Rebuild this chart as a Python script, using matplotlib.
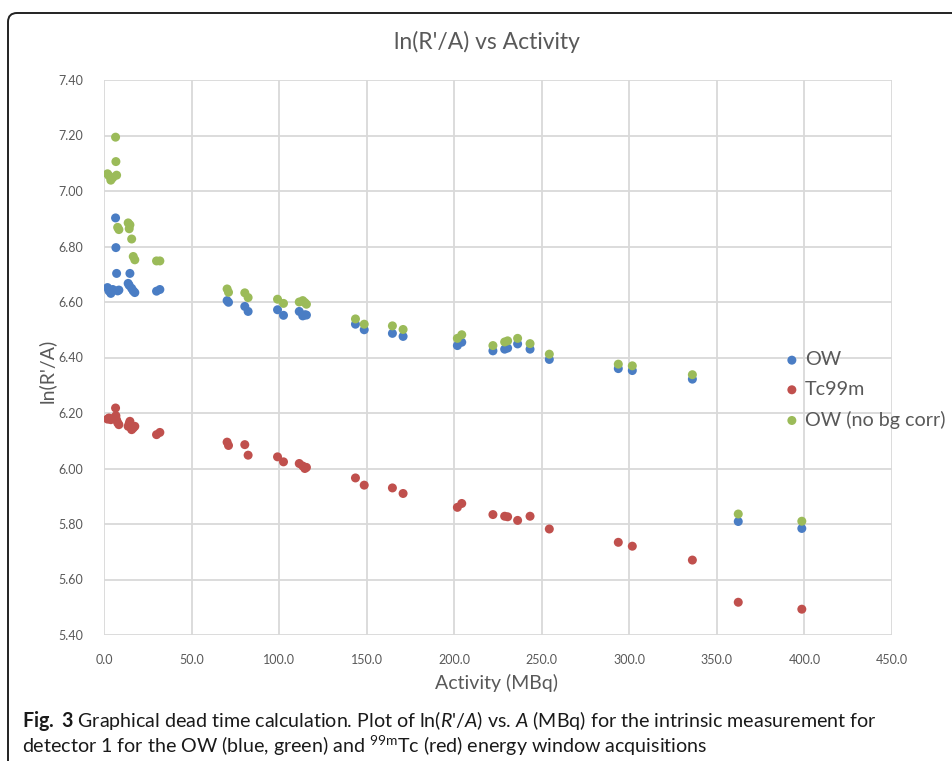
import numpy as np
import matplotlib
matplotlib.use("Agg")
import matplotlib.pyplot as plt
from matplotlib.patches import FancyBboxPatch
from matplotlib.transforms import IdentityTransform

# ---------------
# DATA
# ---------------
activity = [2.0, 2.8, 3.9, 5.0, 6.6, 6.8, 7.2, 7.8, 8.5, 13.8, 14.4, 14.8,
            15.8, 16.7, 17.6, 30.0, 31.9,
            70.3, 71.1, 80.4, 82.3, 99.1, 102.5, 111.5, 113.5, 114.7, 115.6,
            143.6, 148.6, 164.7, 170.8, 201.8, 204.3, 222.1, 228.8, 230.5,
            236.2, 243.3, 254.3, 293.7, 301.7, 336.0, 362.2, 398.5]

ow = [6.652, 6.640, 6.631, 6.645, 6.903, 6.796, 6.703, 6.640, 6.643, 6.667,
      6.660, 6.703, 6.649, 6.640, 6.634, 6.639, 6.645,
      6.605, 6.599, 6.584, 6.566, 6.572, 6.552, 6.566, 6.550, 6.554, 6.553,
      6.520, 6.500, 6.487, 6.476, 6.443, 6.455, 6.424, 6.430, 6.434,
      6.449, 6.430, 6.393, 6.360, 6.353, 6.322, 5.809, 5.784]

tc99m = [6.178, 6.182, 6.176, 6.180, 6.218, 6.190, 6.175, 6.165, 6.158, 6.152,
         6.162, 6.170, 6.140, 6.146, 6.152, 6.122, 6.130,
         6.095, 6.083, 6.086, 6.048, 6.042, 6.024, 6.018, 6.009, 6.000, 6.004,
         5.966, 5.940, 5.930, 5.910, 5.860, 5.874, 5.834, 5.828, 5.826,
         5.813, 5.828, 5.782, 5.734, 5.720, 5.670, 5.518, 5.493]

ow_nobg = [7.062, 7.055, 7.039, 7.048, 7.194, 7.106, 7.057, 6.869, 6.861, 6.885,
           6.864, 6.878, 6.827, 6.764, 6.752, 6.748, 6.748,
           6.647, 6.635, 6.633, 6.616, 6.610, 6.595, 6.600, 6.605, 6.598, 6.592,
           6.539, 6.520, 6.514, 6.501, 6.469, 6.482, 6.443, 6.456, 6.460,
           6.469, 6.450, 6.412, 6.376, 6.370, 6.338, 5.836, 5.810]

series_names = ['OW', 'Tc99m', 'OW (no bg corr)']
xticks = np.arange(0, 451, 50)
yticks = np.arange(5.4, 7.41, 0.2)

# ---------------
# STYLE
# ---------------
plt.rcParams['font.family'] = ['Lato', 'DejaVu Sans']
plt.rcParams['mathtext.fontset'] = 'custom'
plt.rcParams['mathtext.rm'] = 'Lato'
plt.rcParams['mathtext.it'] = 'Lato:italic'
plt.rcParams['mathtext.bf'] = 'Lato:bold'

grey = '#595959'
colours = ['#4a7dc4', '#c0504d', '#9bbb59']

W, H = 953, 761
fig = plt.figure(figsize=(W / 100, H / 100), dpi=100)

# plot area in pixels: x 104..892, y 80..635
ax = fig.add_axes([104 / W, 1 - 635 / H, (892 - 104) / W, (635 - 80) / H])

for ys, name, c in zip([ow, tc99m, ow_nobg], series_names, colours):
    ax.scatter(activity, ys, s=42, color=c, edgecolors='none', label=name, zorder=3)

ax.set_xlim(0, 450)
ax.set_ylim(5.4, 7.4)
ax.set_xticks(xticks)
ax.set_xticklabels([f"{v:.1f}" for v in xticks])
ax.set_yticks(yticks)
ax.set_yticklabels([f"{v:.2f}" for v in yticks])
ax.grid(True, color='#d9d9d9', lw=1.3)
ax.set_axisbelow(True)
for sp in ax.spines.values():
    sp.set_visible(False)
ax.tick_params(length=0, labelsize=9, colors=grey)
ax.tick_params(axis='x', pad=14)
ax.tick_params(axis='y', pad=15)

leg = ax.legend(loc='center left', bbox_to_anchor=((782 - 104) / 788, (635 - 390) / 555),
                frameon=False, fontsize=14.2, borderpad=0, borderaxespad=0,
                handletextpad=0.15, handlelength=1.0, labelspacing=0.64,
                scatterpoints=1)
for t in leg.get_texts():
    t.set_color(grey)

# titles / axis labels
fig.text(487 / W, 1 - 42 / H, "ln(R'/A) vs Activity", ha='center', va='center',
         fontsize=16.5, color=grey)
fig.text(497 / W, 1 - 683 / H, "Activity (MBq)", ha='center', va='center',
         fontsize=14, color=grey)
fig.text(47 / W, 1 - 371 / H, "ln(R'/A)", ha='center', va='center', rotation=90,
         fontsize=14, color=grey)

# journal figure frame (left + top, rounded corner)
frame = FancyBboxPatch((8, -60), 1100, H - 13 + 60, boxstyle="round,pad=0,rounding_size=9",
                       transform=IdentityTransform(), fill=False, ec='#222222', lw=1.4)
fig.add_artist(frame)

# caption
fig.text(22 / W, 1 - 727 / H,
         r"$\mathbf{Fig.}$ $\mathbf{3}$ Graphical dead time calculation. Plot of ln($\mathit{R}$'/$\mathit{A}$) vs. "
         r"$\mathit{A}$ (MBq) for the intrinsic measurement for",
         ha='left', va='baseline', fontsize=14.1, color='#1a1a1a')
fig.text(22 / W, 1 - 753 / H,
         r"detector 1 for the OW (blue, green) and $^{\mathrm{99m}}$Tc (red) energy window acquisitions",
         ha='left', va='baseline', fontsize=14.1, color='#1a1a1a')

fig.savefig("out.png", dpi=100)
